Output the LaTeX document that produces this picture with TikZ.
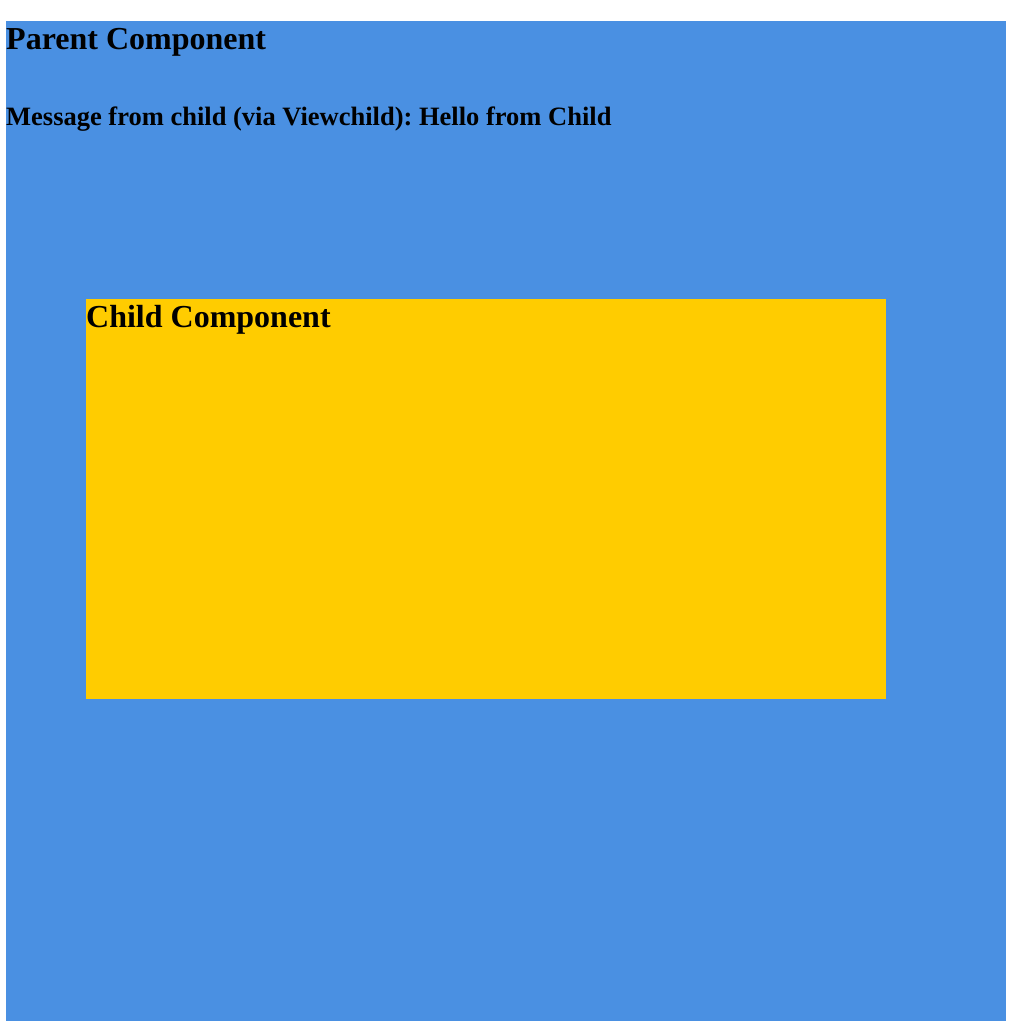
\documentclass[tikz,border=0pt]{standalone}
\usepackage{fontspec}
\setmainfont{Liberation Serif}
\frenchspacing
\definecolor{parentblue}{HTML}{4A90E2}
\definecolor{childyellow}{HTML}{FFCC00}
\begin{document}
\begin{tikzpicture}[x=1pt,y=-1pt,
  heading/.style={anchor=base west,inner sep=0pt,font=\fontsize{32}{36}\selectfont\bfseries},
  subheading/.style={anchor=base west,inner sep=0pt,font=\fontsize{26.5}{30}\selectfont\bfseries}]
\useasboundingbox (0,0) rectangle (1014,1030);
\fill[white] (0,0) rectangle (1014,1030);
\fill[parentblue] (6,21) rectangle (1006,1021);
\fill[childyellow] (86,299) rectangle (886,699);
\node[heading] (parent) at (6,50) {Parent Component};
\node[subheading] (msg) at (6,125) {Message from child (via Viewchild): Hello from Child};
\node[heading] (child) at (86,327) {Child Component};
\end{tikzpicture}
\end{document}
